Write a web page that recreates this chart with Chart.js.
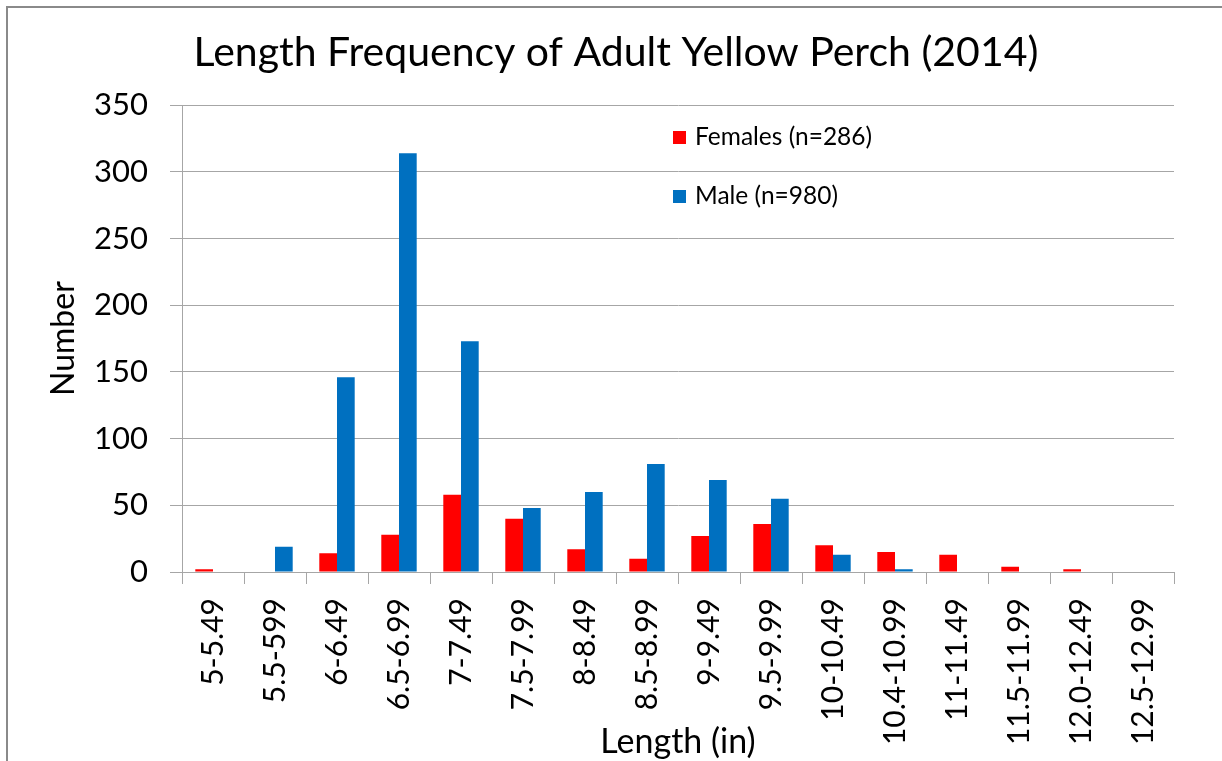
<!DOCTYPE html>
<html>
<head>
<meta charset="utf-8">
<script src="https://cdn.jsdelivr.net/npm/chart.js@4/dist/chart.umd.min.js"></script>
<style>
  html, body { margin: 0; padding: 0; background: #fff; }
  #wrap { position: relative; width: 1222px; height: 761px; }
  #frame { position: absolute; left: 6px; top: 6px; width: 1230px; height: 770px;
           border-top: 2px solid #8a8a8a; border-left: 2px solid #8a8a8a; }
  canvas { position: absolute; left: 0; top: 0; }
</style>
</head>
<body>
<div id="wrap">
  <div id="frame"></div>
  <canvas id="grafico" width="1222" height="761"></canvas>
</div>
<script>
var categorias = ['5-5.49', '5.5-599', '6-6.49', '6.5-6.99', '7-7.49', '7.5-7.99', '8-8.49', '8.5-8.99',
                  '9-9.49', '9.5-9.99', '10-10.49', '10.4-10.99', '11-11.49', '11.5-11.99', '12.0-12.49', '12.5-12.99'];
var femeas = [2, 0, 14, 28, 58, 40, 17, 10, 27, 36, 20, 15, 13, 4, 2, 0];
var machos = [0, 19, 146, 314, 173, 48, 60, 81, 69, 55, 13, 2, 0, 0, 0, 0];
var yTicks = [0, 50, 100, 150, 200, 250, 300, 350];

var fonte = 'Lato, "Noto Sans", sans-serif';
var cinza = '#a6a6a6';

// legend drawn inside the plot, like the original
var legendaDentro = {
    id: 'legendaDentro',
    afterDraw: function(chart) {
        var ctx = chart.ctx;
        var pos = [{x: 673, y: 137}, {x: 673, y: 196}];
        ctx.save();
        ctx.font = '24.5px ' + fonte;
        ctx.textBaseline = 'middle';
        chart.data.datasets.forEach(function(ds, i) {
            ctx.fillStyle = ds.backgroundColor;
            ctx.fillRect(pos[i].x, pos[i].y - 6, 13, 13);
            ctx.fillStyle = '#000';
            ctx.fillText(ds.label, pos[i].x + 22, pos[i].y);
        });
        ctx.restore();
    }
};

var ctx = document.getElementById('grafico').getContext('2d');
var chart = new Chart(ctx, {
    type: 'bar',
    data: {
        labels: categorias,
        datasets: [{
            label: 'Females (n=286)',
            backgroundColor: '#ff0000',
            data: femeas
        }, {
            label: 'Male (n=980)',
            backgroundColor: '#0070c0',
            data: machos
        }]
    },
    options: {
        responsive: false,
        animation: false,
        layout: { padding: { left: 58, right: 48, top: 0, bottom: 0 } },
        datasets: { bar: { categoryPercentage: 0.571, barPercentage: 1.0 } },
        plugins: {
            legend: { display: false },
            tooltip: { enabled: false },
            title: {
                display: true,
                text: 'Length Frequency of Adult Yellow Perch (2014)',
                color: '#000',
                font: { family: fonte, size: 41, weight: 'normal' },
                padding: { top: 28, bottom: 28 }
            }
        },
        scales: {
            x: {
                grid: { display: true, drawOnChartArea: false, drawTicks: true, tickLength: 12, color: cinza, offset: true },
                border: { display: true, color: cinza, width: 1 },
                ticks: { autoSkip: false, minRotation: 90, maxRotation: 90, padding: 14, color: '#000',
                         font: { family: fonte, size: 30 } },
                title: { display: true, text: 'Length (in)', color: '#000',
                         font: { family: fonte, size: 34 }, padding: { top: 0, bottom: -1 } },
                afterFit: function(scale) { scale.height = 189; }
            },
            y: {
                min: 0,
                max: 350,
                afterBuildTicks: function(scale) {
                    scale.ticks = yTicks.map(function(v) { return { value: v }; });
                },
                grid: { color: cinza, tickLength: 12, lineWidth: 1 },
                border: { display: true, color: cinza, width: 1 },
                ticks: { padding: 22, color: '#000', font: { family: fonte, size: 31 } },
                title: { display: true, text: 'Number', color: '#000',
                         font: { family: fonte, size: 32 }, padding: { top: -14, bottom: 0 } },
                afterFit: function(scale) { scale.width = 124; }
            }
        }
    },
    plugins: [legendaDentro]
});
</script>
</body>
</html>
